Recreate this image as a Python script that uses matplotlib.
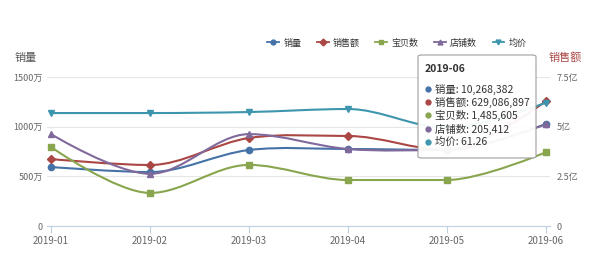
import matplotlib
matplotlib.use('Agg')
import matplotlib.pyplot as plt
from matplotlib.path import Path
from matplotlib.patches import PathPatch, FancyBboxPatch
from matplotlib.lines import Line2D
import numpy as np

plt.rcParams['font.family'] = ['Noto Sans CJK SC', 'DejaVu Sans']

months = ['2019-01', '2019-02', '2019-03', '2019-04', '2019-05', '2019-06']
sales_qty = [594, 543, 765, 775, 765, 1026.8]        # 销量 (万)
sales_amt = [3.37, 3.07, 4.43, 4.53, 3.82, 6.29]     # 销售额 (亿)
item_cnt = [1.59, 0.665, 1.23, 0.926, 0.926, 1.4856]  # 宝贝数 (百万)
shop_cnt = [185, 105, 185, 155, 153, 205.4]          # 店铺数 (千)
avg_price = [56.1, 56.1, 56.6, 58.1, 48.7, 61.26]    # 均价

names = ['销量', '销售额', '宝贝数', '店铺数', '均价']
colors = ['#4572A7', '#AA4643', '#89A54E', '#80699B', '#3D96AE']
markers = ['o', 'D', 's', '^', 'v']

tip_title = '2019-06'
tip_values = ['10,268,382', '629,086,897', '1,485,605', '205,412', '61.26']


def smooth_line(ax, xs, ys, color):
    # bezier path through the points, flat tangent at local peaks/valleys
    xs = np.asarray(xs, float)
    ys = np.asarray(ys, float)
    n = len(xs)
    d = np.zeros(n)
    for i in range(1, n - 1):
        s0 = (ys[i] - ys[i - 1]) / (xs[i] - xs[i - 1])
        s1 = (ys[i + 1] - ys[i]) / (xs[i + 1] - xs[i])
        if s0 * s1 > 0:
            d[i] = (s0 + s1) / 2
    verts = [(xs[0], ys[0])]
    codes = [Path.MOVETO]
    for i in range(n - 1):
        dx = xs[i + 1] - xs[i]
        if i == 0:
            c1 = (xs[i], ys[i])
        else:
            c1 = (xs[i] + dx / 3, ys[i] + d[i] * dx / 3)
        if i + 1 == n - 1:
            c2 = (xs[i + 1], ys[i + 1])
        else:
            c2 = (xs[i + 1] - dx / 3, ys[i + 1] - d[i + 1] * dx / 3)
        verts += [c1, c2, (xs[i + 1], ys[i + 1])]
        codes += [Path.CURVE4] * 3
    ax.add_patch(PathPatch(Path(verts, codes), fill=False, edgecolor=color, lw=1.5, zorder=3))


fig = plt.figure(figsize=(6, 2.66), dpi=100)
ax = fig.add_axes([47 / 600, 40 / 266, 503 / 600, 149 / 266])
x = np.arange(len(months))

ax.set_xlim(-0.04, 5.04)
ax.set_ylim(0, 1500)
ax.set_yticks([0, 500, 1000, 1500])
ax.set_yticklabels(['0', '500万', '1000万', '1500万'])
ax.grid(axis='y', color='#e6e6e6', lw=0.8)
ax.set_xticks(x)
ax.set_xticklabels(months)
for s in ['top', 'right', 'left']:
    ax.spines[s].set_visible(False)
ax.spines['bottom'].set_color('#c0d0e0')
ax.tick_params(axis='y', length=0, labelsize=6.5, labelcolor='#666666', pad=3)
ax.tick_params(axis='x', length=5, color='#c0d0e0', labelsize=7, labelcolor='#666666', pad=2)

axr = ax.twinx()
axr.set_ylim(0, 7.5)
axr.set_yticks([0, 2.5, 5, 7.5])
axr.set_yticklabels(['0', '2.5亿', '5亿', '7.5亿'])
axr.tick_params(axis='y', length=0, labelsize=6.5, labelcolor='#666666', pad=5)
for s in axr.spines.values():
    s.set_visible(False)

ax_item = ax.twinx()
ax_item.set_ylim(0, 3.0)
ax_shop = ax.twinx()
ax_shop.set_ylim(0, 300)
ax_price = ax.twinx()
ax_price.set_ylim(0, 74)
for a in [ax_item, ax_shop, ax_price]:
    a.axis('off')

series = [(ax, sales_qty), (axr, sales_amt), (ax_item, item_cnt), (ax_shop, shop_cnt), (ax_price, avg_price)]
for (a, ys), c, m in zip(series, colors, markers):
    a.set_xlim(-0.04, 5.04)
    smooth_line(a, x, ys, c)
    a.plot(x, ys, ls='none', marker=m, color=c, ms=4.5, zorder=4, clip_on=False)

fig.text(15 / 600, 1 - 58 / 266, '销量', fontsize=8, color='#555555', va='center')
fig.text(549 / 600, 1 - 58 / 266, '销售额', fontsize=8, color='#AA4643', va='center')

# legend
handles = [Line2D([], [], color=c, marker=m, ms=3.5, lw=1.3) for c, m in zip(colors, markers)]
fig.legend(handles, names, loc='center', bbox_to_anchor=(397 / 600, 1 - 43 / 266), ncol=5,
           frameon=False, fontsize=6.5, handlelength=1.3, handletextpad=0.5, columnspacing=1.7,
           labelcolor='#333333')

# tooltip
box = FancyBboxPatch((418 / 600, 1 - 158 / 266), 118 / 600, 103 / 266,
                     boxstyle='round,pad=0,rounding_size=0.006', transform=fig.transFigure,
                     facecolor='white', edgecolor='#999999', lw=0.8, alpha=0.95, zorder=10)
fig.patches.append(box)
fig.text(425 / 600, 1 - 69 / 266, tip_title, fontsize=7.5, fontweight='bold', color='#333333',
         va='center', zorder=11)
row_y = [89, 102, 115, 129, 142]
for ry, nm, val, c in zip(row_y, names, tip_values, colors):
    fig.add_artist(Line2D([428 / 600], [1 - ry / 266], marker='o', ms=3.5, color=c, ls='none',
                          transform=fig.transFigure, zorder=11))
    fig.text(435 / 600, 1 - ry / 266, nm + ': ' + val, fontsize=7.5, color='#333333',
             va='center', zorder=11)

fig.savefig('out.png', dpi=100)
